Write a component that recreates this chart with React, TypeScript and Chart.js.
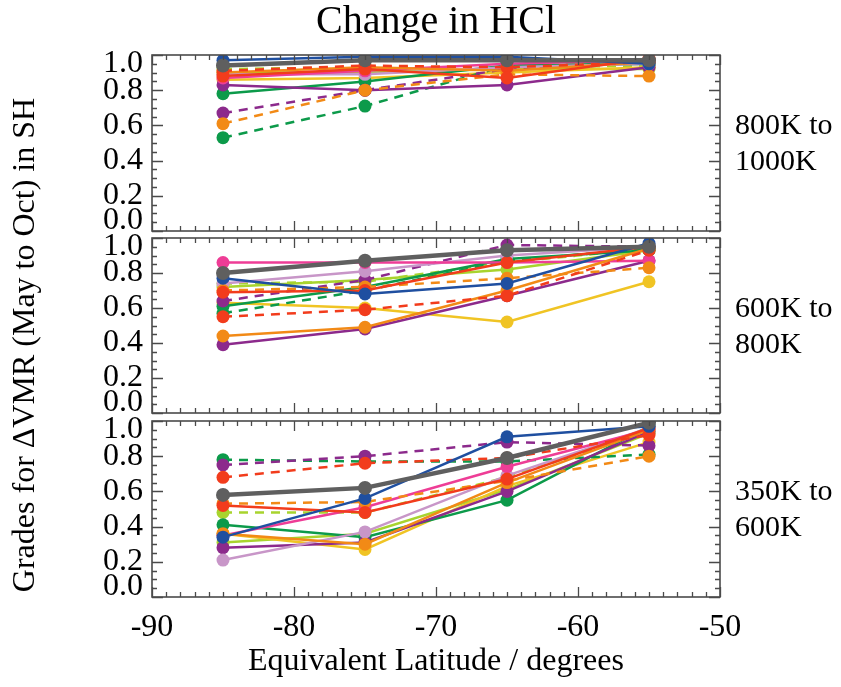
import React, { useEffect, useRef } from 'react';
import { Chart, registerables } from 'chart.js';

Chart.register(...registerables);

const SERIF = "'Liberation Serif', 'DejaVu Serif', serif";

// ---------- data ----------
const latitudes = [-85, -75, -65, -55];
const xTickValues = [-90, -80, -70, -60, -50];
const yTickValues = [0, 0.2, 0.4, 0.6, 0.8, 1.0];
const chartTitle = 'Change in HCl';
const xTitle = 'Equivalent Latitude / degrees';
const yTitle = 'Grades for \u0394VMR (May to Oct) in SH';
const panelLabels = [
  ['800K to', '1000K'],
  ['600K to', '800K'],
  ['350K to', '600K'],
];

// 800K to 1000K
const gray800 = [0.94, 0.97, 0.97, 0.97];
const blue800 = [0.97, 0.99, 0.99, 0.95];
const red800 = [0.88, 0.92, 0.87, 0.98];
const redDash800 = [0.91, 0.94, 0.93, 0.96];
const orange800 = [0.9, 0.93, 0.91, 0.96];
const orangeDash800 = [0.61, 0.8, 0.89, 0.88];
const pink800 = [0.87, 0.91, 0.95, 0.97];
const lavender800 = [0.89, 0.89, 0.93, 0.95];
const purple800 = [0.83, 0.8, 0.83, 0.93];
const purpleDash800 = [0.67, 0.8, 0.92, 0.96];
const green800 = [0.78, 0.85, 0.94, 0.95];
const greenDash800 = [0.53, 0.71, 0.94, 0.95];
const yellow800 = [0.86, 0.87, 0.9, 0.93];
const lime800 = [0.9, 0.9, 0.92, 0.92];
const limeDash800 = [0.92, 0.93, 0.93, 0.94];

// 600K to 800K
const gray600 = [0.8, 0.87, 0.93, 0.95];
const blue600 = [0.77, 0.68, 0.74, 0.97];
const red600 = [0.69, 0.7, 0.86, 0.95];
const redDash600 = [0.55, 0.59, 0.67, 0.93];
const orange600 = [0.44, 0.49, 0.7, 0.94];
const orangeDash600 = [0.7, 0.72, 0.77, 0.83];
const pink600 = [0.86, 0.86, 0.86, 0.87];
const lavender600 = [0.74, 0.81, 0.9, 0.95];
const purple600 = [0.39, 0.48, 0.67, 0.87];
const purpleDash600 = [0.64, 0.76, 0.96, 0.95];
const green600 = [0.61, 0.72, 0.88, 0.93];
const greenDash600 = [0.57, 0.7, 0.87, 0.94];
const yellow600 = [0.63, 0.6, 0.52, 0.75];
const lime600 = [0.72, 0.76, 0.82, 0.93];
const limeDash600 = [0.74, 0.75, 0.86, 0.94];

// 350K to 600K
const gray350 = [0.58, 0.62, 0.79, 0.99];
const blue350 = [0.34, 0.56, 0.91, 0.97];
const red350 = [0.52, 0.48, 0.67, 0.96];
const redDash350 = [0.68, 0.76, 0.79, 0.92];
const orange350 = [0.36, 0.3, 0.65, 0.95];
const orangeDash350 = [0.53, 0.54, 0.66, 0.8];
const pink350 = [0.35, 0.51, 0.74, 0.95];
const lavender350 = [0.21, 0.37, 0.69, 0.96];
const purple350 = [0.28, 0.31, 0.6, 0.94];
const purpleDash350 = [0.75, 0.8, 0.88, 0.86];
const green350 = [0.41, 0.34, 0.55, 0.97];
const greenDash350 = [0.78, 0.77, 0.77, 0.81];
const yellow350 = [0.36, 0.27, 0.63, 0.88];
const lime350 = [0.31, 0.36, 0.61, 0.93];
const limeDash350 = [0.48, 0.48, 0.68, 0.94];

// ---------- styles ----------
const seriesStyles = [
  { key: 'gray', color: '#5f5f5f', dash: [], width: 4.5, radius: 7 },
  { key: 'blue', color: '#1f4fa0', dash: [], width: 2.5, radius: 6.5 },
  { key: 'red', color: '#f23c1c', dash: [], width: 2.5, radius: 6.5 },
  { key: 'redDash', color: '#f23c1c', dash: [9, 7], width: 2.5, radius: 6.5 },
  { key: 'orange', color: '#f28a16', dash: [], width: 2.5, radius: 6.5 },
  { key: 'orangeDash', color: '#f28a16', dash: [9, 7], width: 2.5, radius: 6.5 },
  { key: 'pink', color: '#ee3d96', dash: [], width: 2.5, radius: 6.5 },
  { key: 'lavender', color: '#c896c8', dash: [], width: 2.5, radius: 6.5 },
  { key: 'purple', color: '#8c2a8c', dash: [], width: 2.5, radius: 6.5 },
  { key: 'purpleDash', color: '#8c2a8c', dash: [9, 7], width: 2.5, radius: 6.5 },
  { key: 'green', color: '#0c9a4a', dash: [], width: 2.5, radius: 6.5 },
  { key: 'greenDash', color: '#0c9a4a', dash: [9, 7], width: 2.5, radius: 6.5 },
  { key: 'yellow', color: '#f0c424', dash: [], width: 2.5, radius: 6.5 },
  { key: 'lime', color: '#a8d42e', dash: [], width: 2.5, radius: 6.5 },
  { key: 'limeDash', color: '#a8d42e', dash: [9, 7], width: 2.5, radius: 6.5 },
];

const panelData = [
  { gray: gray800, blue: blue800, red: red800, redDash: redDash800, orange: orange800, orangeDash: orangeDash800, pink: pink800, lavender: lavender800, purple: purple800, purpleDash: purpleDash800, green: green800, greenDash: greenDash800, yellow: yellow800, lime: lime800, limeDash: limeDash800 },
  { gray: gray600, blue: blue600, red: red600, redDash: redDash600, orange: orange600, orangeDash: orangeDash600, pink: pink600, lavender: lavender600, purple: purple600, purpleDash: purpleDash600, green: green600, greenDash: greenDash600, yellow: yellow600, lime: lime600, limeDash: limeDash600 },
  { gray: gray350, blue: blue350, red: red350, redDash: redDash350, orange: orange350, orangeDash: orangeDash350, pink: pink350, lavender: lavender350, purple: purple350, purpleDash: purpleDash350, green: green350, greenDash: greenDash350, yellow: yellow350, lime: lime350, limeDash: limeDash350 },
];

// ---------- layout ----------
const W = 841;
const H = 687;
const PLOT_LEFT = 152;
const PLOT_RIGHT = 720;
const panelPadding = [
  { top: 0, bottom: H - 231 },
  { top: 238, bottom: H - 413 },
  { top: 421, bottom: 0 },
];

const framePlugin = {
  id: 'frameTicks',
  beforeDraw(chart: any) {
    const s = chart.scales.y;
    const items = s.getLabelItems();
    if (items.__shifted) return;
    items.forEach((it: any, i: number) => {
      const v = s.ticks[i] && s.ticks[i].value;
      if (Math.abs(v - 0) < 1e-9) it.options.translation[1] -= 10;
      if (Math.abs(v - 1) < 1e-9) it.options.translation[1] += 9;
    });
    items.__shifted = true;
  },
  afterDraw(chart: any, _args: any, opts: any) {
    const ctx = chart.ctx;
    const { left, right, top, bottom } = chart.chartArea;
    const xs = chart.scales.x;
    const ys = chart.scales.y;
    ctx.save();
    ctx.strokeStyle = '#4a4a4a';
    ctx.lineWidth = 1.3;
    ctx.beginPath();
    for (let k = 0; k <= 40; k++) {
      const v = -90 + k;
      const px = Math.round(xs.getPixelForValue(v)) + 0.5;
      const len = k % 10 === 0 ? 10 : 5;
      ctx.moveTo(px, bottom);
      ctx.lineTo(px, bottom - len);
      ctx.moveTo(px, top);
      ctx.lineTo(px, top + len);
    }
    for (let k = 0; k <= 20; k++) {
      const v = k * 0.05;
      const py = Math.round(ys.getPixelForValue(v)) + 0.5;
      const len = k % 4 === 0 ? 11 : 5;
      ctx.moveTo(left, py);
      ctx.lineTo(left + len, py);
      ctx.moveTo(right, py);
      ctx.lineTo(right - len, py);
    }
    ctx.stroke();
    ctx.lineWidth = 1.6;
    ctx.strokeRect(left, top, right - left, bottom - top);

    // panel labels on the right
    ctx.fillStyle = '#000';
    ctx.font = `30px ${SERIF}`;
    ctx.textAlign = 'left';
    ctx.textBaseline = 'middle';
    const lines: string[] = opts.lines || [];
    lines.forEach((t, i) => ctx.fillText(t, 735, top + 71 + i * 36));

    if (opts.yTitle) {
      ctx.translate(26, 345);
      ctx.rotate(-Math.PI / 2);
      ctx.textAlign = 'center';
      ctx.font = `32px ${SERIF}`;
      ctx.fillText(opts.yTitle, 0, 0);
    }
    ctx.restore();
  },
};

function buildConfig(i: number): any {
  const isTop = i === 0;
  const isBottom = i === 2;
  const data = panelData[i] as any;
  const datasets = seriesStyles.map((st) => ({
    label: st.key,
    data: latitudes.map((x, j) => ({ x, y: data[st.key][j] })),
    borderColor: st.color,
    backgroundColor: st.color,
    borderWidth: st.width,
    borderDash: st.dash,
    pointRadius: st.radius,
    pointBackgroundColor: st.color,
    pointBorderWidth: 0,
    tension: 0,
    fill: false,
  }));
  return {
    type: 'line',
    data: { datasets },
    plugins: [framePlugin],
    options: {
      animation: false,
      responsive: false,
      devicePixelRatio: 1,
      events: [],
      layout: {
        padding: { left: 0, right: W - PLOT_RIGHT, top: panelPadding[i].top, bottom: panelPadding[i].bottom },
      },
      scales: {
        x: {
          type: 'linear',
          min: -90,
          max: -50,
          display: isBottom,
          afterFit: (s: any) => {
            if (isBottom) s.height = 90;
          },
          afterBuildTicks: (s: any) => {
            s.ticks = xTickValues.map((v) => ({ value: v }));
          },
          grid: { display: false, drawTicks: false },
          border: { display: false },
          ticks: {
            padding: 11,
            color: '#000',
            maxRotation: 0,
            autoSkip: false,
            font: { family: SERIF, size: 32 },
            callback: (v: any) => String(v),
          },
          title: {
            display: true,
            text: xTitle,
            color: '#000',
            font: { family: SERIF, size: 32 },
            padding: { top: 0, bottom: 6 },
          },
        },
        y: {
          type: 'linear',
          min: 0,
          max: 1,
          afterFit: (s: any) => {
            s.width = PLOT_LEFT;
          },
          afterBuildTicks: (s: any) => {
            s.ticks = yTickValues.map((v) => ({ value: v }));
          },
          grid: { display: false, drawTicks: false },
          border: { display: false },
          ticks: {
            padding: 9,
            autoSkip: false,
            color: '#000',
            font: { family: SERIF, size: 32 },
            callback: (v: any) => Number(v).toFixed(1),
          },
        },
      },
      plugins: {
        legend: { display: false },
        tooltip: { enabled: false },
        title: {
          display: isTop,
          text: chartTitle,
          color: '#000',
          fullSize: false,
          font: { family: SERIF, size: 40, weight: 'normal', lineHeight: 1 },
          padding: { top: 2, bottom: 13 },
        },
        frameTicks: { lines: panelLabels[i], yTitle: isTop ? yTitle : null },
      },
    },
  };
}

function Panel({ index }: { index: number }) {
  const ref = useRef<HTMLCanvasElement | null>(null);
  useEffect(() => {
    if (!ref.current) return;
    const chart = new Chart(ref.current, buildConfig(index));
    return () => chart.destroy();
  }, [index]);
  return (
    <canvas
      ref={ref}
      width={W}
      height={H}
      style={{ position: 'absolute', left: 0, top: 0, width: W, height: H }}
    />
  );
}

export default function App() {
  return (
    <div style={{ position: 'fixed', left: 0, top: 0, width: W, height: H, background: '#fff' }}>
      <Panel index={0} />
      <Panel index={1} />
      <Panel index={2} />
    </div>
  );
}
